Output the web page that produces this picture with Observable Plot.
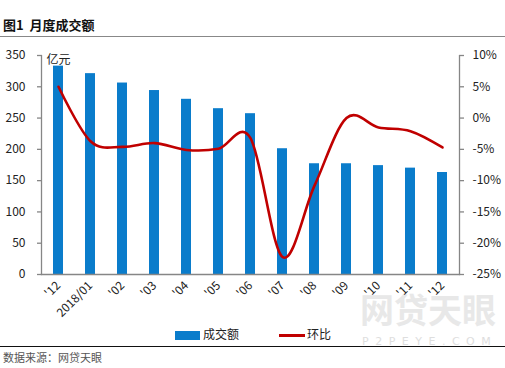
<!DOCTYPE html>
<html>
<head>
<meta charset="utf-8">
<script src="https://cdn.jsdelivr.net/npm/d3@7"></script>
<script src="https://cdn.jsdelivr.net/npm/@observablehq/plot@0.6"></script>
<style>
  html, body { margin: 0; padding: 0; background: #fff; }
  #wrap { position: relative; width: 505px; height: 368px; overflow: hidden; font-family: "Noto Sans CJK SC", "Noto Sans", sans-serif; }
  #title { position: absolute; left: 3px; top: 14px; font-size: 13px; font-weight: bold; color: #111; line-height: 22px; }
  #topline { position: absolute; left: 0; top: 36px; width: 505px; height: 1px; background: #888; }
  #chart { position: absolute; left: 0; top: 40px; }
  #wm { position: absolute; left: 360px; top: 288px; font-size: 34px; font-weight: bold; color: #e8e8e8; line-height: 42px; }
  #wm2 { position: absolute; left: 362px; top: 335px; font-size: 11px; color: #dedede; letter-spacing: 6.5px; font-family: "DejaVu Sans", sans-serif; white-space: nowrap; }
  #legend { position: absolute; top: 325px; left: 0; width: 505px; height: 16px; font-size: 12px; color: #222; }
  .sw { position: absolute; }
  #botline { position: absolute; left: 0; top: 346px; width: 505px; height: 1px; background: #111; }
  #source { position: absolute; left: 3px; top: 349px; font-size: 11px; color: #555; line-height: 16px; }
</style>
</head>
<body>
<div id="wrap">
  <div id="title">图1&nbsp;&nbsp;月度成交额</div>
  <div id="topline"></div>
  <div id="wm">网贷天眼</div>
  <div id="wm2">P2PEYE.CO<span style="letter-spacing:0">M</span></div>
  <div id="chart"></div>
  <div id="legend">
    <div class="sw" style="left:175px;top:6px;width:25px;height:9px;background:#0a7ccb;"></div>
    <div class="sw" style="left:203px;top:0px;">成交额</div>
    <div class="sw" style="left:279px;top:9px;width:26px;height:3px;background:#c00000;"></div>
    <div class="sw" style="left:307px;top:0px;">环比</div>
  </div>
  <div id="botline"></div>
  <div id="source">数据来源：网贷天眼</div>
</div>
<script>
const months = ["2017-12","2018-01","2018-02","2018-03","2018-04","2018-05","2018-06","2018-07","2018-08","2018-09","2018-10","2018-11","2018-12"];
const tickLabels = ["'12","2018/01","'02","'03","'04","'05","'06","'07","'08","'09","'10","'11","'12"];
const volume = [333, 321, 306, 294, 280, 265, 257, 201, 177, 177, 174, 170, 163];
const momPct = [5.0, -3.7, -4.6, -4.0, -5.1, -4.9, -3.2, -22.2, -10.8, 0.0, -1.5, -2.1, -4.7];
const leftTicks = [0, 50, 100, 150, 200, 250, 300, 350];
const rightTicks = [-25, -20, -15, -10, -5, 0, 5, 10];

const blue = "#0a7ccb";
const red = "#c00000";
const axisColor = "#868686";

// map right-axis percent domain [-25, 10] onto left-axis domain [0, 350]
const y2 = d3.scaleLinear().domain([-25, 10]).range([0, 350]);

const rows = months.map((m, i) => ({month: m, label: tickLabels[i], volume: volume[i], pct: momPct[i], pctY: y2(momPct[i])}));
const labelOf = new Map(months.map((m, i) => [m, tickLabels[i]]));

const chart = Plot.plot({
  width: 505,
  height: 280,
  marginTop: 15,
  marginBottom: 46,
  marginLeft: 41,
  marginRight: 46,
  style: {fontFamily: "'Noto Sans CJK SC', 'Noto Sans', sans-serif", fontSize: "12px", color: "#222", background: "transparent"},
  x: {domain: months, paddingInner: 0.69, paddingOuter: 0.28, align: 0.5},
  y: {domain: [0, 350]},
  marks: [
    Plot.barY(rows, {x: "month", y: "volume", fill: blue}),
    Plot.line(rows, {x: "month", y: "pctY", stroke: red, strokeWidth: 2.6, curve: "cardinal"}),
    Plot.frame({anchor: "left", stroke: axisColor, strokeWidth: 1.3}),
    Plot.frame({anchor: "right", stroke: axisColor, strokeWidth: 1.3}),
    Plot.frame({anchor: "bottom", stroke: axisColor, strokeWidth: 1.3}),
    Plot.axisY(leftTicks, {anchor: "left", tickSize: 4, tickPadding: 12, stroke: axisColor, strokeWidth: 1.3, label: null, fill: "#222"}),
    Plot.axisY(rightTicks.map(y2), {anchor: "right", tickSize: 4, tickPadding: 9, stroke: axisColor, strokeWidth: 1.3, label: null, fill: "#222", tickFormat: d => Math.round(y2.invert(d)) + "%"}),
    Plot.axisX({anchor: "bottom", tickSize: 0, tickPadding: 9, tickRotate: -45, label: null, fill: "#222", tickFormat: d => labelOf.get(d)}),
    Plot.text(["亿元"], {frameAnchor: "top-left", dx: 5, textAnchor: "start", fill: "#222", fontSize: 12})
  ]
});
document.getElementById("chart").appendChild(chart);
</script>
</body>
</html>
